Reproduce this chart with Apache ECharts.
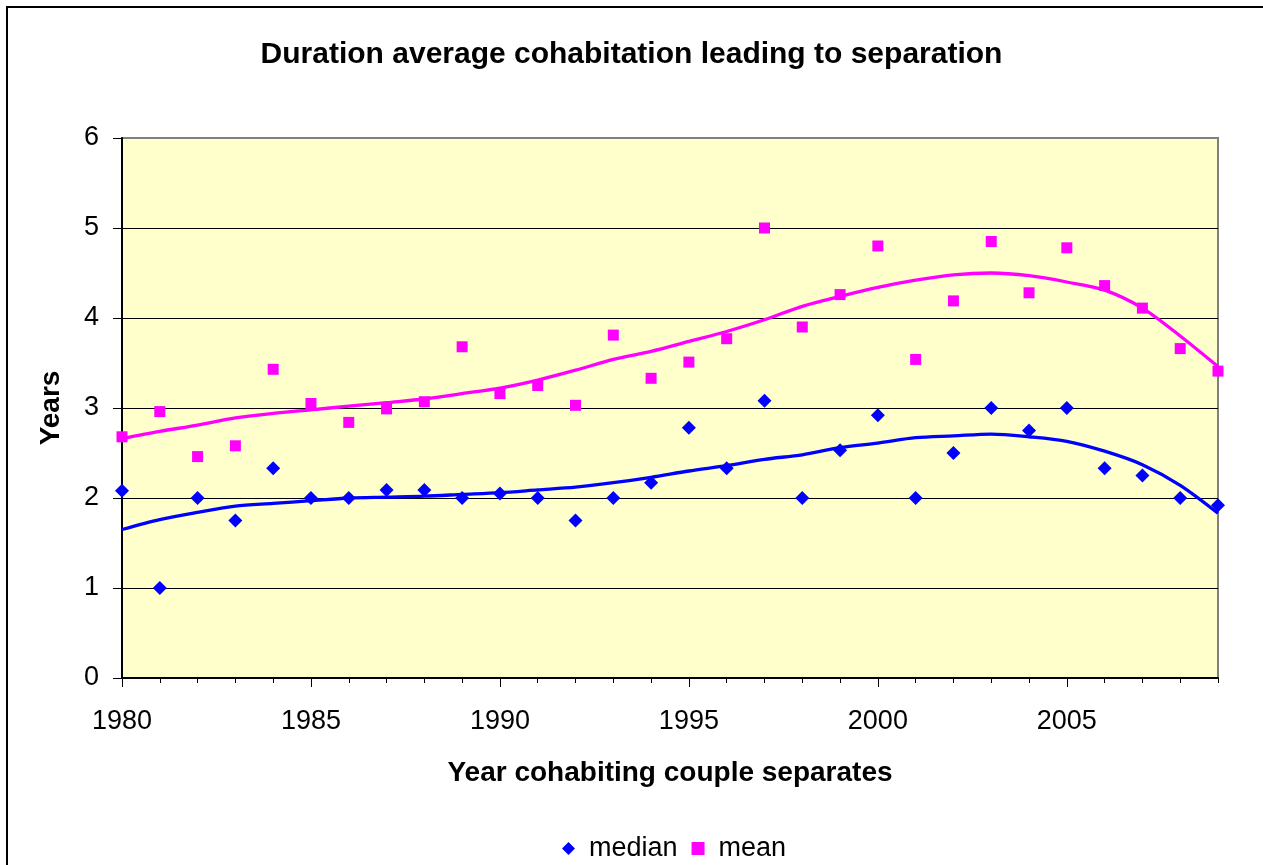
<!DOCTYPE html>
<html>
<head>
<meta charset="utf-8">
<title>Duration average cohabitation leading to separation</title>
<script src="https://cdn.jsdelivr.net/npm/echarts@6/dist/echarts.min.js"></script>
<style>
  body { margin: 0; background: #fff; }
  #chart { width: 1263px; height: 865px; }
</style>
</head>
<body>
<div id="chart"></div>
<script>
// data
const years = [1980, 1981, 1982, 1983, 1984, 1985, 1986, 1987, 1988, 1989,
  1990, 1991, 1992, 1993, 1994, 1995, 1996, 1997, 1998, 1999,
  2000, 2001, 2002, 2003, 2004, 2005, 2006, 2007, 2008, 2009];
const median = [2.08, 1.0, 2.0, 1.75, 2.33, 2.0, 2.0, 2.09, 2.09, 2.0,
  2.05, 2.0, 1.75, 2.0, 2.17, 2.78, 2.33, 3.08, 2.0, 2.53,
  2.92, 2.0, 2.5, 3.0, 2.75, 3.0, 2.33, 2.25, 2.0, 1.92];
const mean = [2.68, 2.96, 2.46, 2.58, 3.43, 3.05, 2.84, 2.99, 3.07, 3.68,
  3.16, 3.25, 3.03, 3.81, 3.33, 3.51, 3.77, 5.0, 3.9, 4.26,
  4.8, 3.54, 4.19, 4.85, 4.28, 4.78, 4.36, 4.11, 3.66, 3.41];
// trend lines as drawn in the picture
const medianTrend = [1.65, 1.76, 1.84, 1.91, 1.94, 1.97, 2.0, 2.01, 2.02, 2.04,
  2.06, 2.09, 2.12, 2.17, 2.23, 2.3, 2.36, 2.43, 2.48, 2.56,
  2.61, 2.67, 2.69, 2.71, 2.68, 2.63, 2.52, 2.37, 2.14, 1.83];
const meanTrend = [2.66, 2.74, 2.81, 2.89, 2.94, 2.98, 3.02, 3.06, 3.1, 3.16,
  3.22, 3.31, 3.42, 3.54, 3.63, 3.74, 3.85, 3.98, 4.13, 4.24,
  4.34, 4.42, 4.48, 4.5, 4.47, 4.4, 4.31, 4.11, 3.8, 3.46];
const xTickLabels = [1980, 1985, 1990, 1995, 2000, 2005];
const yTicks = [0, 1, 2, 3, 4, 5, 6];

const FONT = "'Liberation Sans', Arial, sans-serif";
const pairs = (vals) => years.map((y, i) => [y, vals[i]]);

const chart = echarts.init(document.getElementById("chart"));
chart.setOption({
  animation: false,
  textStyle: { fontFamily: FONT, color: "#000" },
  graphic: [{
    type: "rect",
    shape: { x: 7, y: 7, width: 1300, height: 900 },
    style: { fill: "none", stroke: "#000", lineWidth: 2 },
    silent: true
  }],
  title: {
    text: "Duration average cohabitation leading to separation",
    left: "center",
    top: 35,
    textStyle: { fontFamily: FONT, fontSize: 30, fontWeight: "bold", color: "#000" }
  },
  legend: {
    top: 830,
    left: 557,
    itemWidth: 13,
    itemHeight: 13,
    itemGap: 14,
    textStyle: { fontFamily: FONT, fontSize: 27, color: "#000", padding: [0, 0, 0, 9] },
    data: [
      { name: "median", icon: "diamond" },
      { name: "mean", icon: "rect" }
    ]
  },
  grid: {
    left: 122,
    right: 45,
    top: 138,
    bottom: 187,
    show: true,
    backgroundColor: "#FFFFCC",
    borderColor: "#808080",
    borderWidth: 2
  },
  xAxis: [{
    type: "value",
    min: 1980,
    max: 2009,
    interval: 5,
    name: "Year cohabiting couple separates",
    nameLocation: "middle",
    nameGap: 81,
    nameTextStyle: { fontFamily: FONT, fontSize: 28, fontWeight: "bold", color: "#000" },
    axisLine: { show: true, lineStyle: { color: "#000", width: 2 } },
    axisTick: { show: true, length: 9, customValues: xTickLabels, lineStyle: { color: "#000" } },
    axisLabel: {
      customValues: xTickLabels,
      margin: 30,
      fontSize: 27,
      fontFamily: FONT,
      color: "#000",
      formatter: (v) => String(v)
    },
    splitLine: { show: false }
  }, {
    // yearly minor ticks
    type: "value",
    min: 1980,
    max: 2009,
    interval: 1,
    position: "bottom",
    axisLine: { show: false },
    axisTick: { show: true, length: 5, lineStyle: { color: "#000" } },
    axisLabel: { show: false },
    splitLine: { show: false }
  }],
  yAxis: {
    type: "value",
    min: 0,
    max: 6,
    interval: 1,
    name: "Years",
    nameLocation: "middle",
    nameGap: 57,
    nameRotate: 90,
    nameTextStyle: { fontFamily: FONT, fontSize: 28, fontWeight: "bold", color: "#000" },
    axisLine: { show: true, lineStyle: { color: "#000", width: 2 } },
    axisTick: { show: true, length: 9, lineStyle: { color: "#000" } },
    axisLabel: {
      margin: 23,
      fontSize: 27,
      fontFamily: FONT,
      color: "#000",
      customValues: yTicks
    },
    splitLine: { show: true, showMinLine: false, showMaxLine: false, lineStyle: { color: "#000", width: 1 } }
  },
  series: [
    {
      name: "median",
      type: "scatter",
      symbol: "diamond",
      symbolSize: 14,
      itemStyle: { color: "#0000FF", opacity: 1 },
      data: pairs(median),
      z: 3
    },
    {
      name: "mean",
      type: "scatter",
      symbol: "rect",
      symbolSize: 11,
      itemStyle: { color: "#FF00FF", opacity: 1 },
      data: pairs(mean),
      z: 3
    },
    {
      name: "median trend",
      type: "line",
      showSymbol: false,
      smooth: 0.3,
      lineStyle: { color: "#0000FF", width: 3.3 },
      data: pairs(medianTrend),
      z: 4
    },
    {
      name: "mean trend",
      type: "line",
      showSymbol: false,
      smooth: 0.3,
      lineStyle: { color: "#FF00FF", width: 3.3 },
      data: pairs(meanTrend),
      z: 4
    }
  ]
});
</script>
</body>
</html>
